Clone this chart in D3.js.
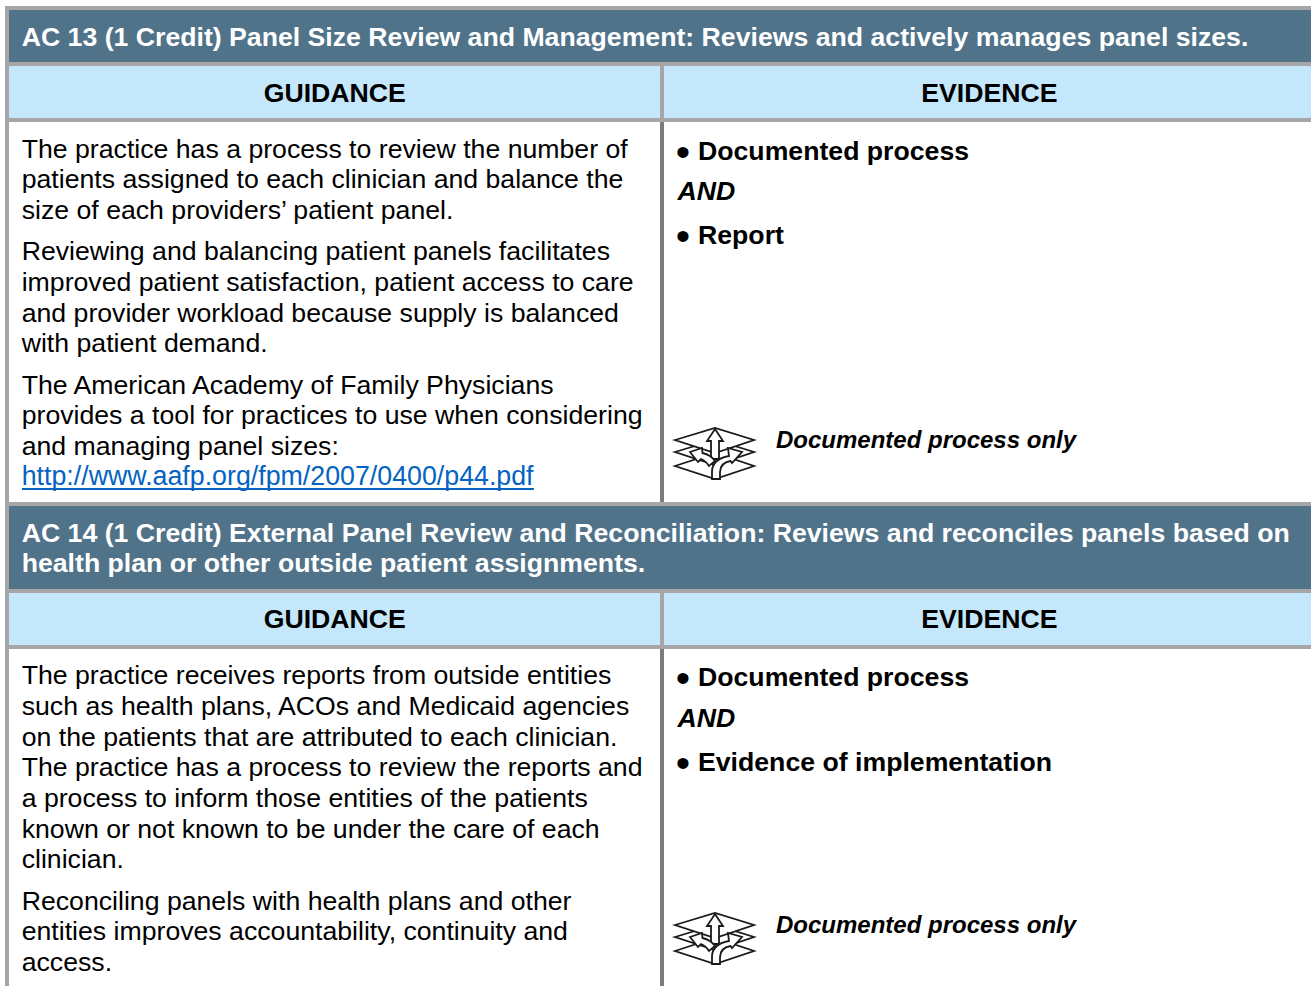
<!DOCTYPE html>
<html>
<head>
<meta charset="utf-8">
<script src="https://cdn.jsdelivr.net/npm/d3@7"></script>
<style>
  html, body { margin: 0; padding: 0; background: #fff; overflow: hidden; }
  text { font-family: "Liberation Sans", Arial, sans-serif; }
</style>
</head>
<body>
<script>
// text of the two sections
const titles13 = ["AC 13 (1 Credit) Panel Size Review and Management: Reviews and actively manages panel sizes."];
const titles14 = ["AC 14 (1 Credit) External Panel Review and Reconciliation: Reviews and reconciles panels based on",
  "health plan or other outside patient assignments."];
const columnHeads = ["GUIDANCE", "EVIDENCE"];
const guidance13 = ["The practice has a process to review the number of",
  "patients assigned to each clinician and balance the",
  "size of each providers\u2019 patient panel.",
  "Reviewing and balancing patient panels facilitates",
  "improved patient satisfaction, patient access to care",
  "and provider workload because supply is balanced",
  "with patient demand.",
  "The American Academy of Family Physicians",
  "provides a tool for practices to use when considering",
  "and managing panel sizes:"];
const link13 = "http://www.aafp.org/fpm/2007/0400/p44.pdf";
const guidance14 = ["The practice receives reports from outside entities",
  "such as health plans, ACOs and Medicaid agencies",
  "on the patients that are attributed to each clinician.",
  "The practice has a process to review the reports and",
  "a process to inform those entities of the patients",
  "known or not known to be under the care of each",
  "clinician.",
  "Reconciling panels with health plans and other",
  "entities improves accountability, continuity and",
  "access."];
const evidence13 = ["Documented process", "Report"];
const evidence14 = ["Documented process", "Evidence of implementation"];
const andWord = "AND";
const iconNote = "Documented process only";

const W = 1311, H = 986;
const BORDER = "#a6a6a6", DARK = "#50738a", LIGHT = "#c4e7fb", DIVIDER = "#7f7b7b";

const svg = d3.select("body").append("svg")
  .attr("width", W).attr("height", H)
  .style("display", "block");

function rect(x, y, w, h, fill) {
  svg.append("rect").attr("x", x).attr("y", y).attr("width", w).attr("height", h).attr("fill", fill);
}
function label(str, x, y, o) {
  o = o || {};
  return svg.append("text")
    .attr("x", x).attr("y", y)
    .attr("font-size", o.size || 26.67)
    .attr("font-weight", o.bold ? "bold" : "normal")
    .attr("font-style", o.italic ? "italic" : "normal")
    .attr("fill", o.fill || "#000")
    .attr("text-anchor", o.anchor || "start")
    .text(str);
}

// the stacked layers with three arrows, drawn in a 80x51 box
function icon(x, y) {
  const g = svg.append("g").attr("transform", `translate(${x},${y})`)
    .attr("fill", "#fff").attr("stroke", "#1a1a1a").attr("stroke-width", 1.8)
    .attr("stroke-linejoin", "miter");
  const layer = d3.line();
  g.append("path").attr("d", layer([[0, 38], [40, 25], [79, 38], [40, 51]]) + "Z");
  g.append("path").attr("d", layer([[0, 24], [40, 12], [79, 24], [40, 37]]) + "Z");
  g.append("path").attr("d", layer([[0, 12], [40, 0], [79, 12], [40, 25]]) + "Z");
  // up arrow
  g.append("path").attr("d", layer([[40, 1], [48, 13], [44, 13], [44, 31], [36, 31], [36, 13], [32, 13]]) + "Z");
  // left arrow
  g.append("path").attr("d", "M15,24 L27,20 L27.5,25 Q36,27 40,33 L34,38 Q31,33 26,31 L23,34 Z");
  // right curved arrow
  g.append("path").attr("d", "M37,51 L37,44 Q37,31 54,28 L53,20 L67,24 L57,35 L55.5,33 Q45,35 45,44 L45,51 Z");
}

function section(top, titleLines, titleH, headBase) {
  const headTop = top + 4 + titleH + 4;
  rect(5, top, W - 5, 4, BORDER);
  rect(9, top + 4, W - 9, titleH, DARK);
  titleLines.forEach((t, i) => label(t, 21.7, top + 40 + i * 30, { bold: true, fill: "#fff" }));
  rect(5, top + 4, 4, titleH, BORDER);
  rect(5, headTop - 4, W - 5, 4, BORDER);
  rect(9, headTop, W - 9, 52, LIGHT);
  rect(5, headTop, 4, 52, BORDER);
  rect(660, headTop, 4, 52, BORDER);
  label(columnHeads[0], 334.8, headBase, { bold: true, anchor: "middle" });
  label(columnHeads[1], 989.4, headBase, { bold: true, anchor: "middle" });
  rect(5, headTop + 52, W - 5, 4, BORDER);
}

section(6, titles13, 52, 102);
section(502, titles14, 83, 628);

// side rules of the body cells
rect(5, 122, 4, 380, BORDER);
rect(660, 122, 4, 380, DIVIDER);
rect(5, 649, 4, 337, BORDER);
rect(660, 649, 4, 337, DIVIDER);

// guidance text; gaps between paragraphs are larger than the line step
function paragraphs(lines, y0, step, gap, breaks) {
  let y = y0;
  lines.forEach((t, i) => {
    if (breaks.includes(i)) y += gap;
    label(t, 21.7, y);
    y += step;
  });
  return y;
}
const linkY = paragraphs(guidance13, 157.7, 30.6, 10.8, [3, 7]);
const linkText = label(link13, 21.7, linkY, { fill: "#0563c1", size: 26.77 });
svg.append("rect").attr("x", 22).attr("y", Math.round(linkY) + 3)
  .attr("width", linkText.node().getComputedTextLength()).attr("height", 2).attr("fill", "#0563c1");
paragraphs(guidance14, 684.2, 30.7, 10.5, [7]);

// evidence column
function evidenceBlock(items, y, andY, secondY) {
  label("\u2022", 675.8, y + 6, { size: 41 });
  label(items[0], 698, y, { bold: true });
  label(andWord, 677.5, andY, { bold: true, italic: true });
  label("\u2022", 675.8, secondY + 6, { size: 41 });
  label(items[1], 698, secondY, { bold: true });
}
evidenceBlock(evidence13, 160, 200, 244);
evidenceBlock(evidence14, 686, 727, 771);

icon(675, 428);
label(iconNote, 776, 448, { bold: true, italic: true, size: 24 });
icon(675, 913);
label(iconNote, 776, 933, { bold: true, italic: true, size: 24 });
</script>
</body>
</html>
